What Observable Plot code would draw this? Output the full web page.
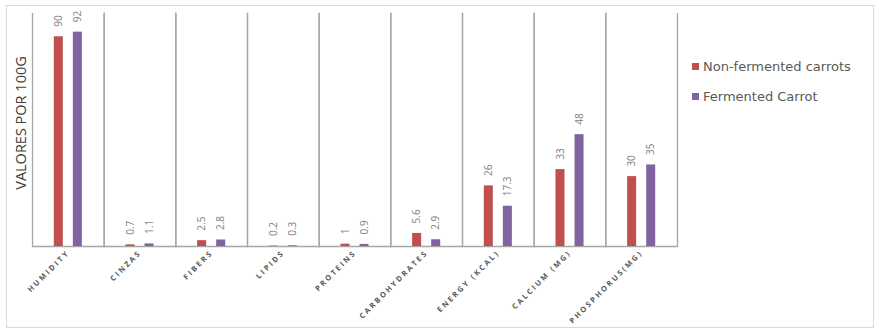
<!DOCTYPE html>
<html>
<head>
<meta charset="utf-8">
<script src="https://cdn.jsdelivr.net/npm/d3@7"></script>
<script src="https://cdn.jsdelivr.net/npm/@observablehq/plot@0.6"></script>
<style>
  body { margin: 0; background: #fff; }
  #wrap { position: relative; width: 879px; height: 334px; overflow: hidden; }
  #border { position: absolute; left: 6px; top: 5px; width: 866px; height: 321px; border: 1.5px solid #d9d9d9; }
  #ytitle { position: absolute; left: 20px; top: 123px; transform: translate(-50%, -50%) rotate(-90deg);
            font-family: "Open Sans", sans-serif; font-size: 14.5px; color: #404040; white-space: nowrap; }
  .leg { position: absolute; left: 692px; font-family: "DejaVu Sans", sans-serif; font-size: 13px; color: #595959; white-space: nowrap; }
  .leg span { display: inline-block; width: 7px; height: 7px; margin-right: 4px; vertical-align: 1px; }
  #chart { position: absolute; left: 0; top: 0; }
  #chart svg [aria-label="fx-axis tick label"] { letter-spacing: 2.2px; }
</style>
</head>
<body>
<div id="wrap">
  <div id="border"></div>
  <div id="chart"></div>
  <div id="ytitle"></div>
  <div id="legend"></div>
</div>
<script>
const categories = ["HUMIDITY", "CINZAS", "FIBERS", "LIPIDS", "PROTEINS", "CARBOHYDRATES", "ENERGY (KCAL)", "CALCIUM (MG)", "PHOSPHORUS(MG)"];
const seriesNames = ["Non-fermented carrots", "Fermented Carrot"];
const nonFermented = [90, 0.7, 2.5, 0.2, 1, 5.6, 26, 33, 30];
const fermented = [92, 1.1, 2.8, 0.3, 0.9, 2.9, 17.3, 48, 35];
const seriesColors = ["#C0504D", "#8064A2"];
const yTitle = "VALORES POR 100G";

const rows = [];
categories.forEach((c, i) => {
  rows.push({cat: c, series: seriesNames[0], value: nonFermented[i]});
  rows.push({cat: c, series: seriesNames[1], value: fermented[i]});
});

const grid = "#a6a6a6";
const chart = Plot.plot({
  width: 879,
  height: 334,
  marginLeft: 32,
  marginRight: 202,
  marginTop: 13,
  marginBottom: 88,
  style: {fontFamily: "Open Sans, sans-serif", background: "transparent"},
  fx: {domain: categories, padding: 0, round: false, label: null, axis: null},
  x: {domain: seriesNames, paddingInner: 0.526, paddingOuter: 1.144, round: false, axis: null},
  y: {domain: [0, 100], axis: null},
  color: {domain: seriesNames, range: seriesColors},
  marks: [
    Plot.frame({anchor: "left", stroke: grid, strokeWidth: 1.3}),
    Plot.frame({anchor: "right", stroke: grid, strokeWidth: 1.3}),
    Plot.ruleY([0], {stroke: grid, strokeWidth: 1.3}),
    Plot.barY(rows, {fx: "cat", x: "series", y: "value", fill: "series"}),
    Plot.text(rows, {fx: "cat", x: "series", y: "value", text: d => String(d.value),
      rotate: -90, textAnchor: "start", lineAnchor: "middle", dy: -10, fill: "#7f7f7f", fontSize: 10}),
    Plot.axisFx({anchor: "bottom", tickRotate: -45, tickSize: 0, tickPadding: 5, fontSize: 7.5,
      fontWeight: "bold", fill: "#595959", label: null})
  ]
});
document.getElementById("chart").appendChild(chart);
document.getElementById("ytitle").textContent = yTitle;
const leg = document.getElementById("legend");
seriesNames.forEach((s, i) => {
  const d = document.createElement("div");
  d.className = "leg";
  d.style.top = (59 + i * 30) + "px";
  const sw = document.createElement("span");
  sw.style.background = seriesColors[i];
  d.appendChild(sw);
  d.appendChild(document.createTextNode(s));
  leg.appendChild(d);
});
</script>
</body>
</html>
